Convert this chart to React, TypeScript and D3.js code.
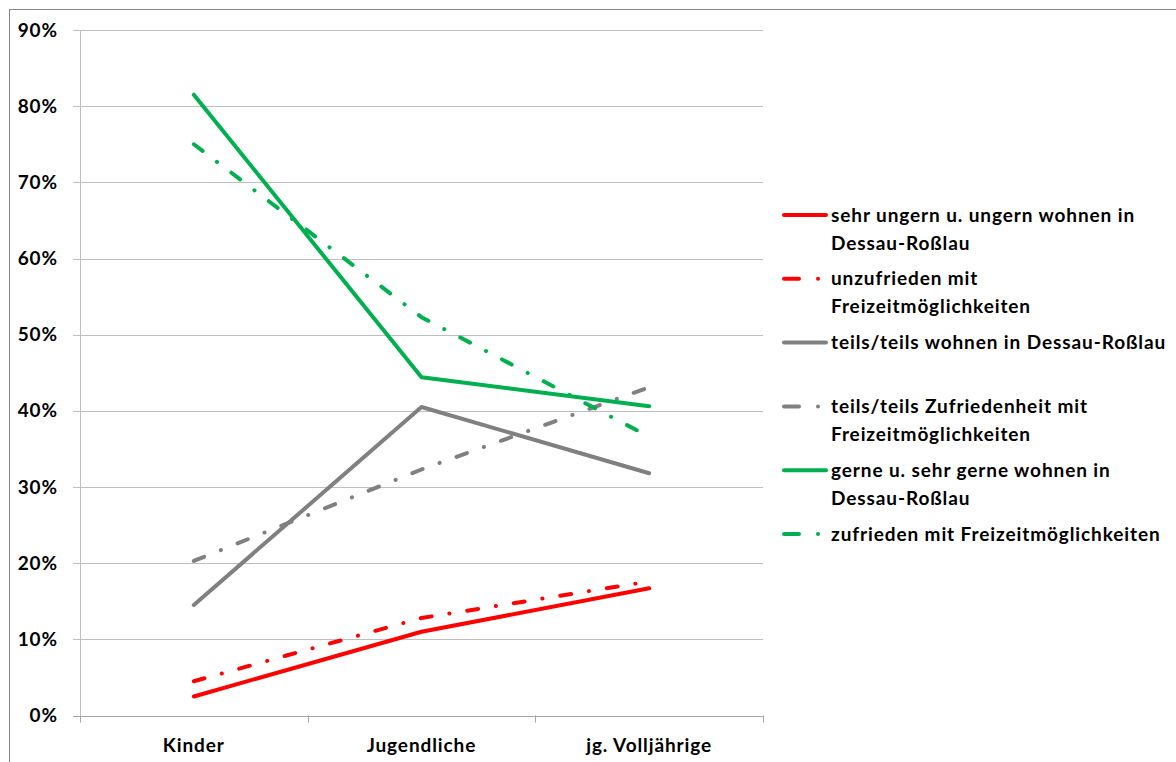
import React from "react";
import * as d3 from "d3";

const categories = ["Kinder", "Jugendliche", "jg. Volljährige"];
const yTicks = [0, 10, 20, 30, 40, 50, 60, 70, 80, 90];

const seriesNames = [
  ["sehr ungern u. ungern wohnen in", "Dessau-Roßlau"],
  ["unzufrieden mit", "Freizeitmöglichkeiten"],
  ["teils/teils wohnen in Dessau-Roßlau"],
  ["teils/teils Zufriedenheit mit", "Freizeitmöglichkeiten"],
  ["gerne u. sehr gerne wohnen in", "Dessau-Roßlau"],
  ["zufrieden mit Freizeitmöglichkeiten"],
];
const sehrUngern = [2.5, 11.0, 16.7];
const unzufrieden = [4.5, 12.8, 17.6];
const teilsWohnen = [14.5, 40.5, 31.8];
const teilsZufrieden = [20.3, 32.3, 43.1];
const gerneWohnen = [81.5, 44.4, 40.6];
const zufrieden = [75.0, 52.3, 36.6];

const seriesValues = [sehrUngern, unzufrieden, teilsWohnen, teilsZufrieden, gerneWohnen, zufrieden];
const seriesColors = ["#ff0000", "#ff0000", "#808080", "#808080", "#00b050", "#00b050"];
const seriesDashed = [false, true, false, true, false, true];

const FONT = "Lato, 'Open Sans', sans-serif";
const DASH = "11,18,0.1,18";
const FS = 19;
const LS = 0.9;

export default function App() {
  const W = 1176, H = 762;
  const left = 80, right = 763, top = 30, bottom = 715.5;
  const x = d3.scaleBand<string>().domain(categories).range([left, right]);
  const y = d3.scaleLinear().domain([0, 90]).range([bottom, top]);
  const line = d3
    .line<number>()
    .x((_, i) => (x(categories[i]) as number) + x.bandwidth() / 2)
    .y((d) => y(d));

  const legX = 784, legTextX = 831, legY0 = 215, slot = 63.8, lh = 28;

  return (
    <svg
      width={W}
      height={H}
      style={{ position: "absolute", left: 0, top: 0, background: "#fff" }}
      fontFamily={FONT}
    >
      <rect x={9.5} y={9.5} width={W} height={H} fill="#fff" stroke="#868686" strokeWidth={1} />
      {yTicks.map((t) => (
        <g key={t}>
          <line x1={left - 7} x2={right} y1={Math.round(y(t)) + 0.5} y2={Math.round(y(t)) + 0.5} stroke={t === 0 ? "#a6a6a6" : "#bfbfbf"} strokeWidth={1} />
          <text x={58} y={y(t)} dy="0.35em" textAnchor="end" fontWeight="bold" fontSize={FS} letterSpacing={LS} fill="#000">
            {t}%
          </text>
        </g>
      ))}
      <line x1={left + 0.5} x2={left + 0.5} y1={top} y2={bottom} stroke="#bfbfbf" />
      {[...categories.map((c) => x(c) as number), right].map((v, i) => (
        <line key={i} x1={Math.round(v) + 0.5} x2={Math.round(v) + 0.5} y1={bottom} y2={bottom + 7} stroke="#a6a6a6" />
      ))}
      {categories.map((c) => (
        <text key={c} x={(x(c) as number) + x.bandwidth() / 2} y={752} textAnchor="middle" fontWeight="bold" fontSize={FS} letterSpacing={LS} fill="#000">
          {c}
        </text>
      ))}
      {seriesValues.map((vals, i) => (
        <path
          key={i}
          d={line(vals) as string}
          fill="none"
          stroke={seriesColors[i]}
          strokeWidth={4}
          strokeLinecap="round"
          strokeLinejoin="round"
          strokeDasharray={seriesDashed[i] ? DASH : undefined}
        />
      ))}
      {seriesNames.map((lines, i) => {
        const cy = legY0 + i * slot;
        return (
          <g key={i}>
            {seriesDashed[i] ? (
              <>
                <line x1={legX} x2={legX + 15} y1={cy} y2={cy} stroke={seriesColors[i]} strokeWidth={4} strokeLinecap="round" />
                <circle cx={legX + 34} cy={cy} r={2} fill={seriesColors[i]} />
              </>
            ) : (
              <line x1={legX} x2={legX + 42} y1={cy} y2={cy} stroke={seriesColors[i]} strokeWidth={4} strokeLinecap="round" />
            )}
            {lines.map((t, j) => (
              <text key={j} x={legTextX} y={cy + j * lh} dy="0.35em" fontWeight="bold" fontSize={FS} letterSpacing={LS} fill="#000">
                {t}
              </text>
            ))}
          </g>
        );
      })}
    </svg>
  );
}
